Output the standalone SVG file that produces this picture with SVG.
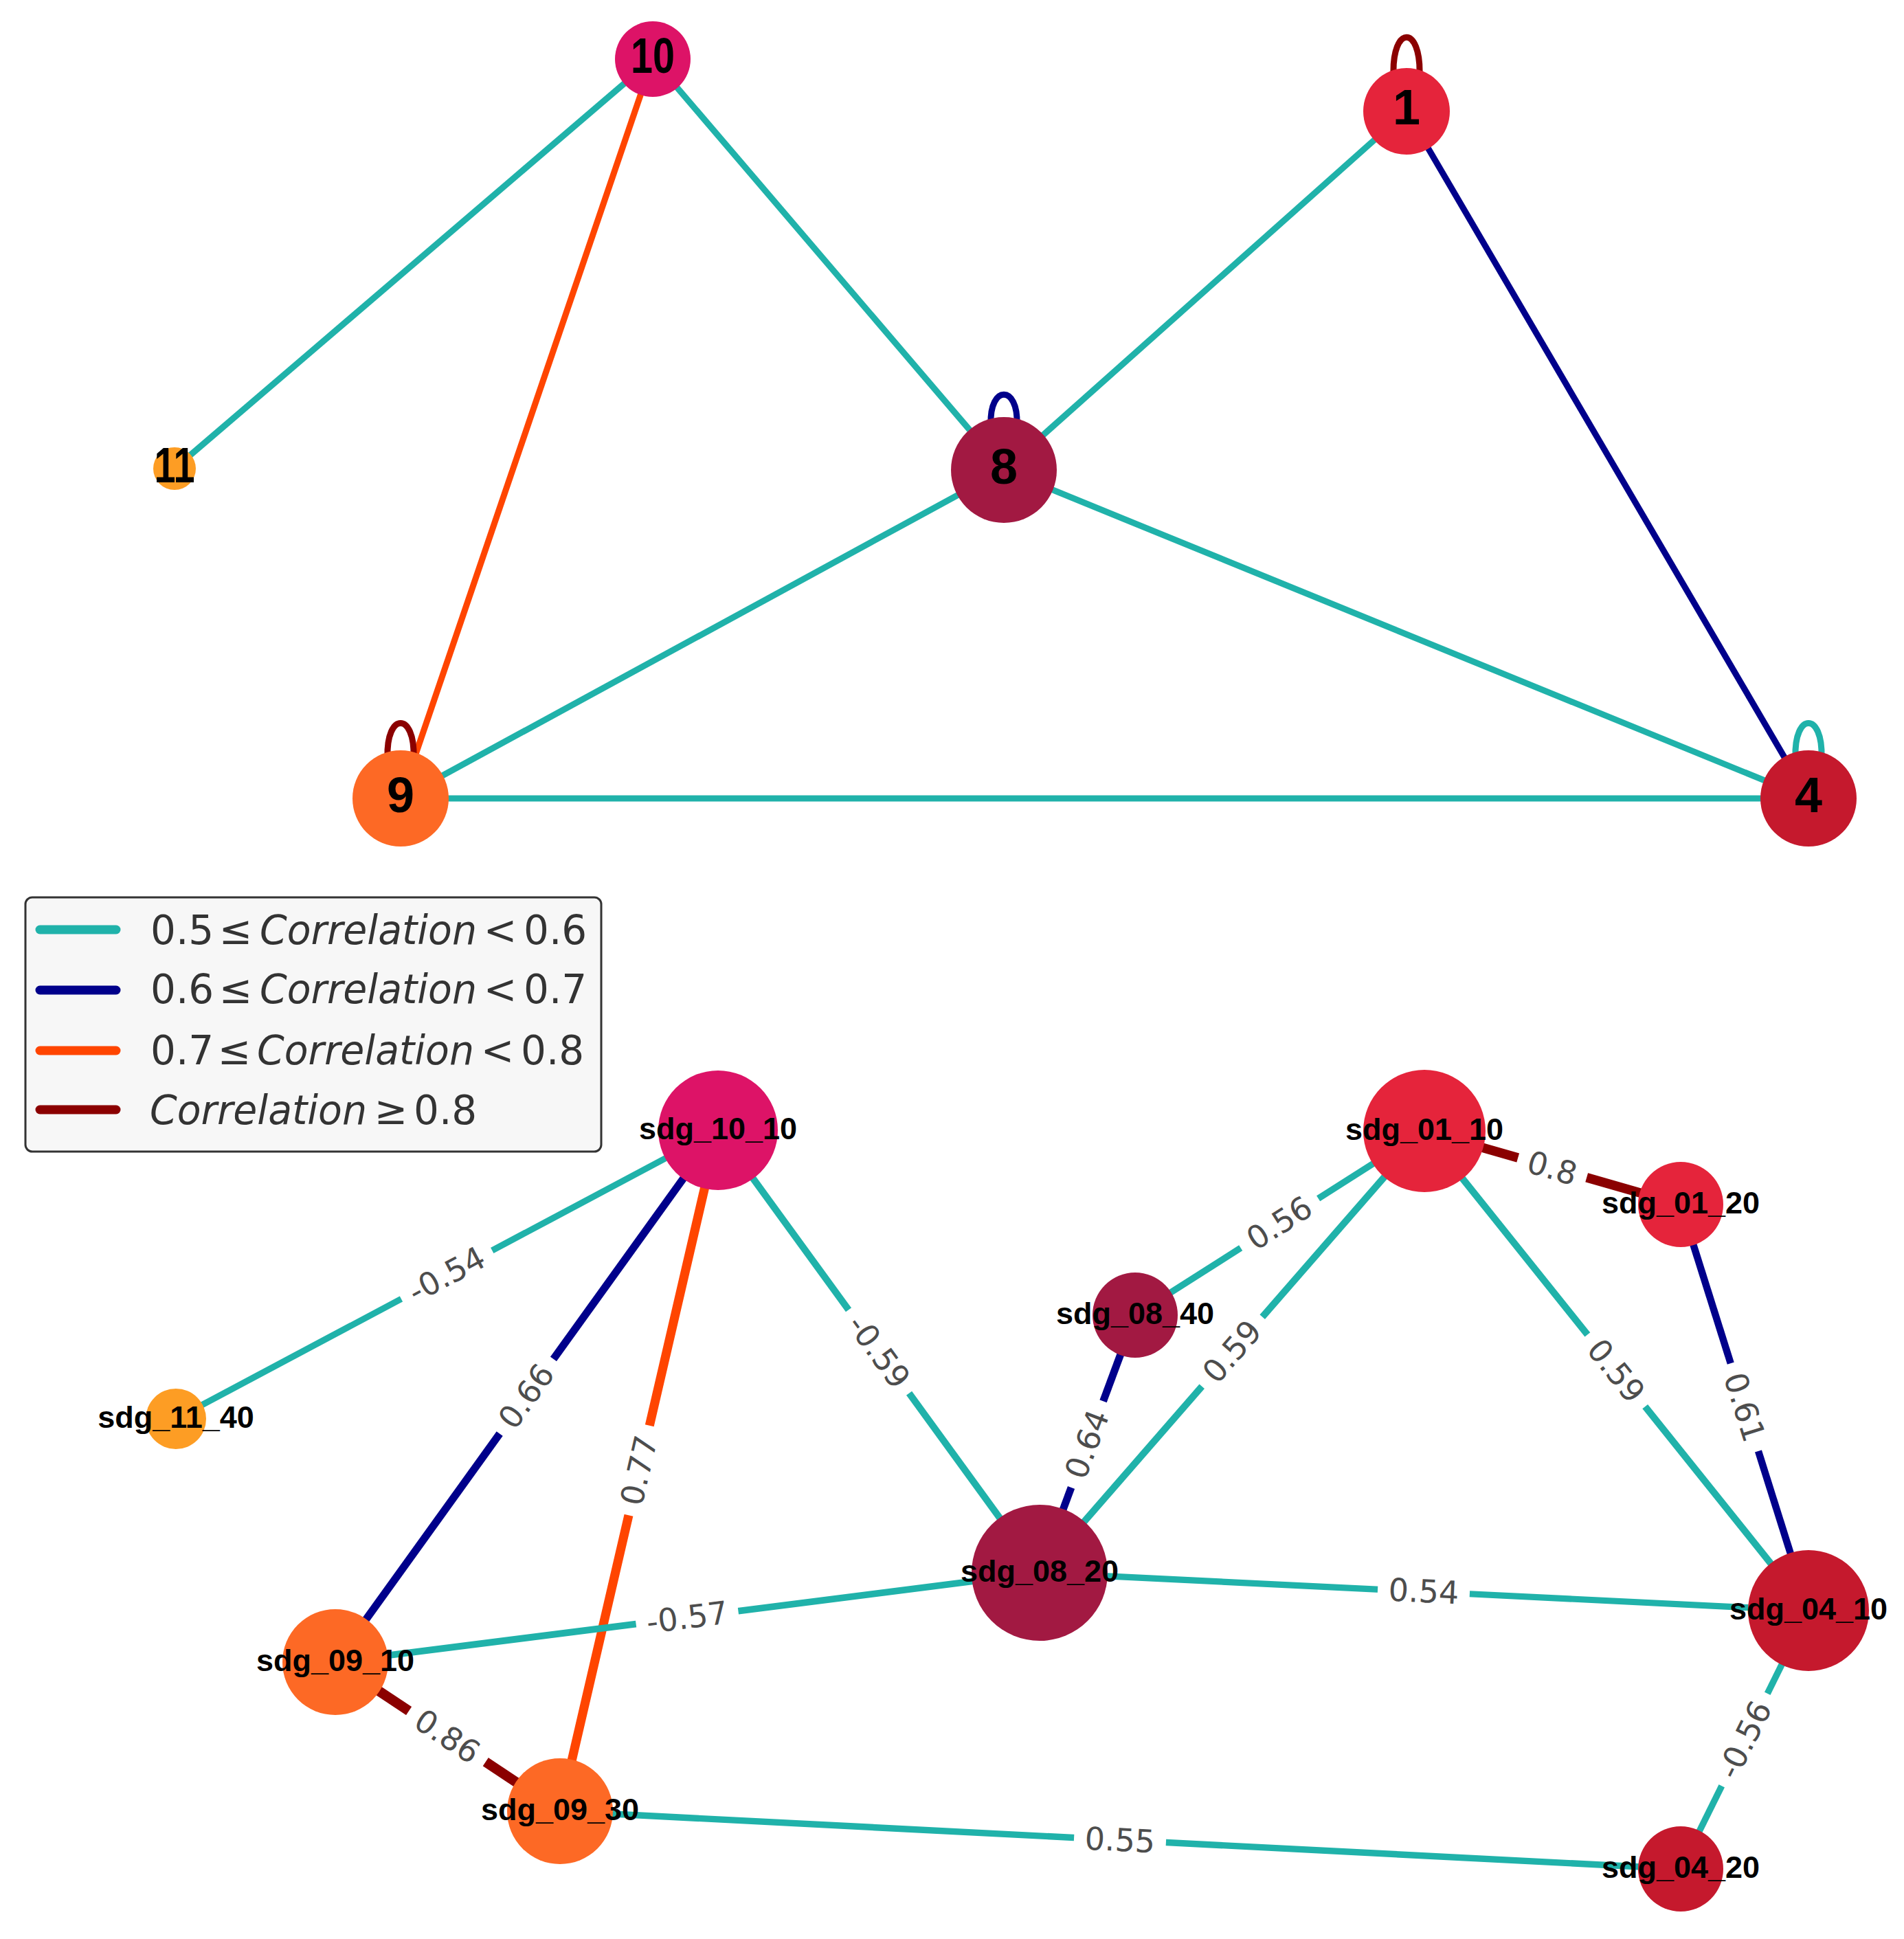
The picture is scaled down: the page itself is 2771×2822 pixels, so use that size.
<svg xmlns="http://www.w3.org/2000/svg" width="2771" height="2822" viewBox="0 0 2771 2822">
<style>
.e{fill:none;stroke-linecap:butt}
.teal{stroke:#20B2AA}.navy{stroke:#00008B}.orng{stroke:#FF4500}.dred{stroke:#8B0000}
.t{stroke-width:9}
.nl{font-family:"Liberation Sans",Arial,sans-serif;font-weight:bold;text-anchor:middle;fill:#000}
.tl{font-size:72px}
.bl{font-size:45px}
.el{font-family:"DejaVu Sans",sans-serif;font-size:46px;fill:#4d4d4d;text-anchor:middle;dominant-baseline:central}
.lb{fill:#fff}
.lg{font-family:"DejaVu Sans",sans-serif;font-size:58px;fill:#333}
.it{font-style:italic}
.mid{text-anchor:middle}
.ll{stroke-width:13;stroke-linecap:round}
</style>
<rect width="2771" height="2822" fill="#fff"/>
<g id="top-connectors">
<line class="e t teal" x1="950" y1="86" x2="254" y2="682"/>
<line class="e t orng" x1="950" y1="86" x2="583" y2="1162"/>
<line class="e t teal" x1="950" y1="86" x2="1461" y2="684"/>
<line class="e t teal" x1="2047" y1="162" x2="1461" y2="684"/>
<line class="e t navy" x1="2047" y1="162" x2="2632" y2="1162"/>
<line class="e t teal" x1="1461" y1="684" x2="583" y2="1162"/>
<line class="e t teal" x1="1461" y1="684" x2="2632" y2="1162"/>
<line class="e t teal" x1="583" y1="1162" x2="2632" y2="1162"/>
<path class="e t dred" d="M2028,109 C2026,36 2068,36 2066,109"/>
<path class="e t navy" d="M1442,617 C1440,560 1482,560 1480,617"/>
<path class="e t dred" d="M564,1102 C562,1036 604,1036 602,1102"/>
<path class="e t teal" d="M2613,1102 C2611,1036 2653,1036 2651,1102"/>
</g>
<g id="top-nodes">
<g id="t10"><circle cx="950" cy="86" r="55" fill="#DD1367"/><text class="nl tl" x="950" y="106" textLength="64" lengthAdjust="spacingAndGlyphs">10</text></g>
<g id="t1"><circle cx="2047" cy="162" r="63" fill="#E5243B"/><text class="nl tl" x="2047" y="181">1</text></g>
<g id="t8"><circle cx="1461" cy="684" r="77" fill="#A21942"/><text class="nl tl" x="1461" y="704">8</text></g>
<g id="t9"><circle cx="583" cy="1162" r="70" fill="#FD6925"/><text class="nl tl" x="583" y="1182">9</text></g>
<g id="t4"><circle cx="2632" cy="1162" r="70" fill="#C5192D"/><text class="nl tl" x="2632" y="1182">4</text></g>
<g id="t11"><circle cx="254" cy="682" r="31" fill="#FD9D24"/><text class="nl tl" x="254" y="702" textLength="59" lengthAdjust="spacingAndGlyphs">11</text></g>
</g>
<g id="legend">
<rect x="37" y="1306" width="838" height="370" rx="10" fill="#F7F7F7" stroke="#333" stroke-width="3"/>
<line class="ll teal" x1="58" y1="1353" x2="169" y2="1353"/>
<line class="ll navy" x1="58" y1="1441" x2="169" y2="1441"/>
<line class="ll orng" x1="58" y1="1529" x2="169" y2="1529"/>
<line class="ll dred" x1="58" y1="1615" x2="169" y2="1615"/>
<text class="lg" x="219" y="1374">0.5</text><text class="lg mid" x="343" y="1374">≤</text><text class="lg it" x="378" y="1374" textLength="316" lengthAdjust="spacingAndGlyphs">Correlation</text><text class="lg mid" x="728" y="1374">&lt;</text><text class="lg" x="762" y="1374">0.6</text>
<text class="lg" x="219" y="1460">0.6</text><text class="lg mid" x="343" y="1460">≤</text><text class="lg it" x="378" y="1460" textLength="316" lengthAdjust="spacingAndGlyphs">Correlation</text><text class="lg mid" x="728" y="1460">&lt;</text><text class="lg" x="762" y="1460">0.7</text>
<text class="lg" x="219" y="1549">0.7</text><text class="lg mid" x="341" y="1549">≤</text><text class="lg it" x="374" y="1549" textLength="316" lengthAdjust="spacingAndGlyphs">Correlation</text><text class="lg mid" x="724" y="1549">&lt;</text><text class="lg" x="758" y="1549">0.8</text>
<text class="lg it" x="218" y="1636" textLength="316" lengthAdjust="spacingAndGlyphs">Correlation</text><text class="lg mid" x="569" y="1636">≥</text><text class="lg" x="602" y="1636">0.8</text>
</g>
<g id="bottom-connectors">
<line class="e teal" stroke-width="9.2" x1="1045" y1="1645" x2="256" y2="2065"/>
<line class="e navy" stroke-width="11.2" x1="1045" y1="1645" x2="488" y2="2419"/>
<line class="e orng" stroke-width="13.1" x1="1045" y1="1645" x2="815" y2="2636"/>
<line class="e teal" stroke-width="10" x1="1045" y1="1645" x2="1513" y2="2289"/>
<line class="e teal" stroke-width="9.5" x1="2073" y1="1646" x2="1652" y2="1914"/>
<line class="e teal" stroke-width="10" x1="2073" y1="1646" x2="1513" y2="2289"/>
<line class="e dred" stroke-width="13.6" x1="2073" y1="1646" x2="2446" y2="1753"/>
<line class="e teal" stroke-width="10" x1="2073" y1="1646" x2="2632" y2="2344"/>
<line class="e navy" stroke-width="10.4" x1="2446" y1="1753" x2="2632" y2="2344"/>
<line class="e navy" stroke-width="10.9" x1="1652" y1="1914" x2="1513" y2="2289"/>
<line class="e teal" stroke-width="9.7" x1="1513" y1="2289" x2="488" y2="2419"/>
<line class="e teal" stroke-width="9.2" x1="1513" y1="2289" x2="2632" y2="2344"/>
<line class="e dred" stroke-width="14.6" x1="488" y1="2419" x2="815" y2="2636"/>
<line class="e teal" stroke-width="9.4" x1="815" y1="2636" x2="2446" y2="2720"/>
<line class="e teal" stroke-width="9.5" x1="2632" y1="2344" x2="2446" y2="2720"/>
</g>
<g id="edge-labels">
<g transform="translate(650,1855) rotate(-28.1)"><rect class="lb" x="-75" y="-33" width="150" height="66" rx="14"/><text class="el">-0.54</text></g>
<g transform="translate(766,2032) rotate(-54.3)"><rect class="lb" x="-67" y="-33" width="134" height="66" rx="14"/><text class="el">0.66</text></g>
<g transform="translate(930,2140) rotate(-76.9)"><rect class="lb" x="-67" y="-33" width="134" height="66" rx="14"/><text class="el">0.77</text></g>
<g transform="translate(1279,1967) rotate(54)"><rect class="lb" x="-75" y="-33" width="150" height="66" rx="14"/><text class="el">-0.59</text></g>
<g transform="translate(1862,1780) rotate(-32.6)"><rect class="lb" x="-67" y="-33" width="134" height="66" rx="14"/><text class="el">0.56</text></g>
<g transform="translate(1793,1967) rotate(-48.9)"><rect class="lb" x="-67" y="-33" width="134" height="66" rx="14"/><text class="el">0.59</text></g>
<g transform="translate(2259,1700) rotate(16.1)"><rect class="lb" x="-52" y="-33" width="104" height="66" rx="14"/><text class="el">0.8</text></g>
<g transform="translate(2352,1995) rotate(51.3)"><rect class="lb" x="-67" y="-33" width="134" height="66" rx="14"/><text class="el">0.59</text></g>
<g transform="translate(2539,2048) rotate(72.5)"><rect class="lb" x="-67" y="-33" width="134" height="66" rx="14"/><text class="el">0.61</text></g>
<g transform="translate(1582,2102) rotate(-69.5)"><rect class="lb" x="-67" y="-33" width="134" height="66" rx="14"/><text class="el">0.64</text></g>
<g transform="translate(1000,2354) rotate(-7.2)"><rect class="lb" x="-75" y="-33" width="150" height="66" rx="14"/><text class="el">-0.57</text></g>
<g transform="translate(2072,2316) rotate(2.8)"><rect class="lb" x="-67" y="-33" width="134" height="66" rx="14"/><text class="el">0.54</text></g>
<g transform="translate(651,2527) rotate(33.6)"><rect class="lb" x="-67" y="-33" width="134" height="66" rx="14"/><text class="el">0.86</text></g>
<g transform="translate(1630,2678) rotate(2.9)"><rect class="lb" x="-67" y="-33" width="134" height="66" rx="14"/><text class="el">0.55</text></g>
<g transform="translate(2539,2532) rotate(-63.7)"><rect class="lb" x="-75" y="-33" width="150" height="66" rx="14"/><text class="el">-0.56</text></g>
</g>
<g id="bottom-nodes">
<g id="sdg_10_10"><circle cx="1045" cy="1645" r="87" fill="#DD1367"/><text class="nl bl" x="1045" y="1658">sdg_10_10</text></g>
<g id="sdg_01_10"><circle cx="2073" cy="1646" r="89" fill="#E5243B"/><text class="nl bl" x="2073" y="1659">sdg_01_10</text></g>
<g id="sdg_01_20"><circle cx="2446" cy="1753" r="62" fill="#E5243B"/><text class="nl bl" x="2446" y="1766">sdg_01_20</text></g>
<g id="sdg_08_40"><circle cx="1652" cy="1914" r="62" fill="#A21942"/><text class="nl bl" x="1652" y="1927">sdg_08_40</text></g>
<g id="sdg_08_20"><circle cx="1513" cy="2289" r="99" fill="#A21942"/><text class="nl bl" x="1513" y="2302">sdg_08_20</text></g>
<g id="sdg_04_10"><circle cx="2632" cy="2344" r="88" fill="#C5192D"/><text class="nl bl" x="2632" y="2357">sdg_04_10</text></g>
<g id="sdg_04_20"><circle cx="2446" cy="2720" r="62" fill="#C5192D"/><text class="nl bl" x="2446" y="2733">sdg_04_20</text></g>
<g id="sdg_09_10"><circle cx="488" cy="2419" r="77" fill="#FD6925"/><text class="nl bl" x="488" y="2432">sdg_09_10</text></g>
<g id="sdg_09_30"><circle cx="815" cy="2636" r="77" fill="#FD6925"/><text class="nl bl" x="815" y="2649">sdg_09_30</text></g>
<g id="sdg_11_40"><circle cx="256" cy="2065" r="44" fill="#FD9D24"/><text class="nl bl" x="256" y="2078">sdg_11_40</text></g>
</g>
</svg>
